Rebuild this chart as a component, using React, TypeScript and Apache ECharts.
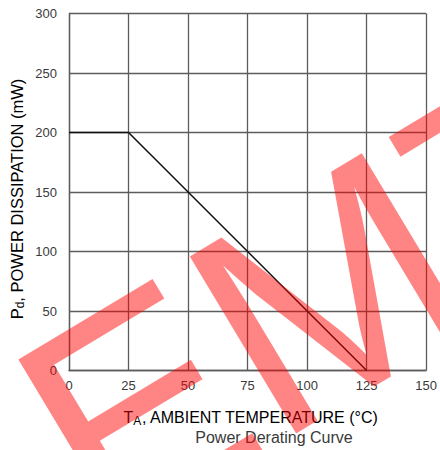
import React, { useEffect, useRef } from "react";
import * as echarts from "echarts";

// Data (temperature °C, power mW)
const tempPoints = [0, 25, 125];
const powerPoints = [200, 200, 0];
const xMin = 0, xMax = 150, xStep = 25;
const yMin = 0, yMax = 300, yStep = 50;
const xTitleMain = "T";
const xTitleSub = "A";
const xTitleRest = ", AMBIENT TEMPERATURE (°C)";
const yTitleMain = "P";
const yTitleSub = "d";
const yTitleRest = ", POWER DISSIPATION (mW)";
const caption = "Power Derating Curve";
const watermark = "EMT";

const FONT = "'Liberation Sans', Arial, sans-serif";
const GRID = "#5c5c5c";
const TXT = "#3a3a3a";

export default function App() {
  const ref = useRef<HTMLDivElement>(null);
  useEffect(() => {
    if (!ref.current) return;
    const chart = echarts.init(ref.current, null, { renderer: "svg" });
    const lineStyle = { color: GRID, width: 1.3 };
    const rich = (size: number, sub: number) => ({
      m: { fontSize: size, fontFamily: FONT, color: TXT, lineHeight: size + 1, verticalAlign: "top" },
      s: { fontSize: sub, fontFamily: FONT, color: TXT, lineHeight: sub, verticalAlign: "bottom", padding: [Math.round(size * 0.55), 0, 0, 0] },
    });
    chart.setOption({
      animation: false,
      backgroundColor: "#ffffff",
      grid: { left: 69, top: 13.5, width: 357.5, height: 357, containLabel: false },
      xAxis: {
        type: "value",
        min: xMin,
        max: xMax,
        interval: xStep,
        axisLine: { show: true, lineStyle },
        axisTick: { show: false },
        splitLine: { show: true, lineStyle },
        axisLabel: { color: TXT, fontSize: 13, fontFamily: FONT, margin: 8 },
      },
      yAxis: {
        type: "value",
        min: yMin,
        max: yMax,
        interval: yStep,
        axisLine: { show: true, lineStyle },
        axisTick: { show: false },
        splitLine: { show: true, lineStyle },
        axisLabel: { color: TXT, fontSize: 13, fontFamily: FONT, margin: 12 },
      },
      series: [
        {
          type: "line",
          data: tempPoints.map((t, i) => [t, powerPoints[i]]),
          symbol: "none",
          lineStyle: { color: "#111111", width: 1.5 },
          z: 3,
        },
      ],
      graphic: [
        {
          type: "text",
          x: 251,
          y: 418,
          style: {
            text: `{m|${xTitleMain}}{s|${xTitleSub}}{m|${xTitleRest}}`,
            rich: rich(16, 12),
            align: "center",
            verticalAlign: "middle",
          },
        },
        {
          type: "text",
          x: 274,
          y: 437,
          style: {
            text: caption,
            fontSize: 16,
            fontFamily: FONT,
            fill: TXT,
            align: "center",
            verticalAlign: "middle",
          },
        },
        {
          type: "text",
          x: 17,
          y: 199,
          rotation: Math.PI / 2,
          style: {
            text: `{m|${yTitleMain}}{s|${yTitleSub}}{m|${yTitleRest}}`,
            rich: rich(16.5, 12),
            align: "center",
            verticalAlign: "middle",
          },
        },
        {
          type: "group",
          x: 50,
          y: 460,
          rotation: (31 * Math.PI) / 180,
          z: 100,
          children: [
            {
              type: "text",
              x: 0,
              y: 0,
              z: 100,
              style: {
                text: watermark,
                fontSize: 300,
                fontFamily: FONT,
                fill: "rgba(255,0,0,0.48)",
                align: "left",
                verticalAlign: "middle",
              },
            },
          ],
        },
      ],
    });
    return () => chart.dispose();
  }, []);
  return (
    <div
      ref={ref}
      style={{ position: "fixed", left: 0, top: 0, width: 440, height: 450 }}
    />
  );
}
